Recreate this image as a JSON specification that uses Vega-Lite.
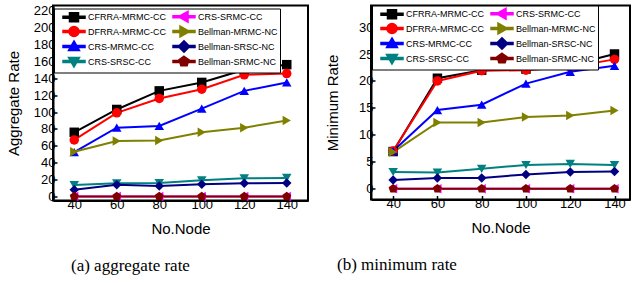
{
  "$schema": "https://vega.github.io/schema/vega-lite/v6.json",
  "padding": {"left": 5, "top": 3.5, "right": 0, "bottom": 0},
  "background": "white",
  "config": {
    "view": {"stroke": "black", "strokeWidth": 2},
    "axis": {
      "domainColor": "black", "domainWidth": 2, "tickColor": "black", "tickWidth": 1.5,
      "tickSize": -4, "labelFont": "Liberation Sans", "labelFontSize": 13, "labelColor": "black",
      "titleFont": "Liberation Sans", "titleFontSize": 15, "titleFontWeight": "normal", "titleColor": "black",
      "grid": false
    },
    "legend": {
      "labelFont": "Liberation Sans", "labelFontSize": 9, "labelColor": "black",
      "strokeColor": "black", "fillColor": "white", "padding": 2, "rowPadding": -6, "columnPadding": -4,
      "symbolSize": 100, "symbolOffset": 12, "labelOffset": 8
    },
    "title": {"font": "Liberation Serif", "fontSize": 17, "fontWeight": "normal", "color": "black"}
  },
  "datasets": {
    "agg": [
      {"n": 40, "s": "CFRRA-MRMC-CC", "v": 76}, {"n": 60, "s": "CFRRA-MRMC-CC", "v": 103}, {"n": 80, "s": "CFRRA-MRMC-CC", "v": 125}, {"n": 100, "s": "CFRRA-MRMC-CC", "v": 135}, {"n": 120, "s": "CFRRA-MRMC-CC", "v": 150}, {"n": 140, "s": "CFRRA-MRMC-CC", "v": 156},
      {"n": 40, "s": "DFRRA-MRMC-CC", "v": 67}, {"n": 60, "s": "DFRRA-MRMC-CC", "v": 99}, {"n": 80, "s": "DFRRA-MRMC-CC", "v": 116}, {"n": 100, "s": "DFRRA-MRMC-CC", "v": 127}, {"n": 120, "s": "DFRRA-MRMC-CC", "v": 144}, {"n": 140, "s": "DFRRA-MRMC-CC", "v": 145.5},
      {"n": 40, "s": "CRS-MRMC-CC", "v": 52.5}, {"n": 60, "s": "CRS-MRMC-CC", "v": 81.5}, {"n": 80, "s": "CRS-MRMC-CC", "v": 83.5}, {"n": 100, "s": "CRS-MRMC-CC", "v": 104}, {"n": 120, "s": "CRS-MRMC-CC", "v": 125}, {"n": 140, "s": "CRS-MRMC-CC", "v": 135},
      {"n": 40, "s": "Bellman-MRMC-NC", "v": 53}, {"n": 60, "s": "Bellman-MRMC-NC", "v": 65.6}, {"n": 80, "s": "Bellman-MRMC-NC", "v": 66.4}, {"n": 100, "s": "Bellman-MRMC-NC", "v": 76}, {"n": 120, "s": "Bellman-MRMC-NC", "v": 81.5}, {"n": 140, "s": "Bellman-MRMC-NC", "v": 90},
      {"n": 40, "s": "CRS-SRSC-CC", "v": 13.6}, {"n": 60, "s": "CRS-SRSC-CC", "v": 15.6}, {"n": 80, "s": "CRS-SRSC-CC", "v": 16}, {"n": 100, "s": "CRS-SRSC-CC", "v": 19.2}, {"n": 120, "s": "CRS-SRSC-CC", "v": 21.6}, {"n": 140, "s": "CRS-SRSC-CC", "v": 22},
      {"n": 40, "s": "Bellman-SRSC-NC", "v": 8}, {"n": 60, "s": "Bellman-SRSC-NC", "v": 14}, {"n": 80, "s": "Bellman-SRSC-NC", "v": 12.4}, {"n": 100, "s": "Bellman-SRSC-NC", "v": 14.4}, {"n": 120, "s": "Bellman-SRSC-NC", "v": 15.6}, {"n": 140, "s": "Bellman-SRSC-NC", "v": 16},
      {"n": 40, "s": "CRS-SRMC-CC", "v": 0}, {"n": 60, "s": "CRS-SRMC-CC", "v": 0}, {"n": 80, "s": "CRS-SRMC-CC", "v": 0}, {"n": 100, "s": "CRS-SRMC-CC", "v": 0}, {"n": 120, "s": "CRS-SRMC-CC", "v": 0}, {"n": 140, "s": "CRS-SRMC-CC", "v": 0},
      {"n": 40, "s": "Bellman-SRMC-NC", "v": 0}, {"n": 60, "s": "Bellman-SRMC-NC", "v": 0}, {"n": 80, "s": "Bellman-SRMC-NC", "v": 0}, {"n": 100, "s": "Bellman-SRMC-NC", "v": 0}, {"n": 120, "s": "Bellman-SRMC-NC", "v": 0}, {"n": 140, "s": "Bellman-SRMC-NC", "v": 0}
    ],
    "minr": [
      {"n": 40, "s": "CFRRA-MRMC-CC", "v": 6.9}, {"n": 60, "s": "CFRRA-MRMC-CC", "v": 20.5}, {"n": 80, "s": "CFRRA-MRMC-CC", "v": 22}, {"n": 100, "s": "CFRRA-MRMC-CC", "v": 22.2}, {"n": 120, "s": "CFRRA-MRMC-CC", "v": 22.9}, {"n": 140, "s": "CFRRA-MRMC-CC", "v": 25},
      {"n": 40, "s": "DFRRA-MRMC-CC", "v": 7}, {"n": 60, "s": "DFRRA-MRMC-CC", "v": 20}, {"n": 80, "s": "DFRRA-MRMC-CC", "v": 21.9}, {"n": 100, "s": "DFRRA-MRMC-CC", "v": 22}, {"n": 120, "s": "DFRRA-MRMC-CC", "v": 22.6}, {"n": 140, "s": "DFRRA-MRMC-CC", "v": 24},
      {"n": 40, "s": "CRS-MRMC-CC", "v": 7}, {"n": 60, "s": "CRS-MRMC-CC", "v": 14.6}, {"n": 80, "s": "CRS-MRMC-CC", "v": 15.6}, {"n": 100, "s": "CRS-MRMC-CC", "v": 19.5}, {"n": 120, "s": "CRS-MRMC-CC", "v": 21.7}, {"n": 140, "s": "CRS-MRMC-CC", "v": 22.8},
      {"n": 40, "s": "Bellman-MRMC-NC", "v": 6.8}, {"n": 60, "s": "Bellman-MRMC-NC", "v": 12.3}, {"n": 80, "s": "Bellman-MRMC-NC", "v": 12.3}, {"n": 100, "s": "Bellman-MRMC-NC", "v": 13.3}, {"n": 120, "s": "Bellman-MRMC-NC", "v": 13.6}, {"n": 140, "s": "Bellman-MRMC-NC", "v": 14.5},
      {"n": 40, "s": "CRS-SRSC-CC", "v": 3.1}, {"n": 60, "s": "CRS-SRSC-CC", "v": 3}, {"n": 80, "s": "CRS-SRSC-CC", "v": 3.7}, {"n": 100, "s": "CRS-SRSC-CC", "v": 4.4}, {"n": 120, "s": "CRS-SRSC-CC", "v": 4.6}, {"n": 140, "s": "CRS-SRSC-CC", "v": 4.4},
      {"n": 40, "s": "Bellman-SRSC-NC", "v": 1.6}, {"n": 60, "s": "Bellman-SRSC-NC", "v": 2}, {"n": 80, "s": "Bellman-SRSC-NC", "v": 2}, {"n": 100, "s": "Bellman-SRSC-NC", "v": 2.65}, {"n": 120, "s": "Bellman-SRSC-NC", "v": 3.1}, {"n": 140, "s": "Bellman-SRSC-NC", "v": 3.2},
      {"n": 40, "s": "CRS-SRMC-CC", "v": 0}, {"n": 60, "s": "CRS-SRMC-CC", "v": 0}, {"n": 80, "s": "CRS-SRMC-CC", "v": 0}, {"n": 100, "s": "CRS-SRMC-CC", "v": 0}, {"n": 120, "s": "CRS-SRMC-CC", "v": 0}, {"n": 140, "s": "CRS-SRMC-CC", "v": 0},
      {"n": 40, "s": "Bellman-SRMC-NC", "v": 0}, {"n": 60, "s": "Bellman-SRMC-NC", "v": 0}, {"n": 80, "s": "Bellman-SRMC-NC", "v": 0}, {"n": 100, "s": "Bellman-SRMC-NC", "v": 0}, {"n": 120, "s": "Bellman-SRMC-NC", "v": 0}, {"n": 140, "s": "Bellman-SRMC-NC", "v": 0}
    ]
  },
  "hconcat": [
    {
      "width": 255, "height": 195,
      "data": {"name": "agg"},
      "title": {"text": "(a) aggregate rate", "orient": "bottom", "anchor": "start", "frame": "group", "dx": 18, "offset": 21},
      "encoding": {
        "x": {"field": "n", "type": "quantitative", "scale": {"domain": [30, 150], "nice": false}, "axis": {"values": [40, 60, 80, 100, 120, 140], "title": "No.Node", "titlePadding": 10}},
        "y": {"field": "v", "type": "quantitative", "scale": {"domain": [-4.7, 226], "nice": false}, "axis": {"values": [0, 20, 40, 60, 80, 100, 120, 140, 160, 180, 200, 220], "title": "Aggregate Rate", "titlePadding": 12}},
        "color": {"field": "s", "type": "nominal",
          "scale": {"domain": ["CFRRA-MRMC-CC", "DFRRA-MRMC-CC", "CRS-MRMC-CC", "CRS-SRSC-CC", "CRS-SRMC-CC", "Bellman-MRMC-NC", "Bellman-SRSC-NC", "Bellman-SRMC-NC"],
                    "range": ["#000000", "#ff0000", "#0000ff", "#008080", "#ff00ff", "#808000", "#000080", "#800000"]},
          "legend": {"title": null, "columns": 2, "orient": "none", "legendX": 1, "legendY": 3,
            "encode": {"symbols": {"update": {
              "shape": {"signal": "({'CFRRA-MRMC-CC':'M-2.2,-0.2H2.2V0.2H-2.2ZM-0.9,-0.9H0.9V0.9H-0.9Z','DFRRA-MRMC-CC':'M-2.2,-0.2H2.2V0.2H-2.2ZM1,0A1,1,0,1,1,-1,0A1,1,0,1,1,1,0Z','CRS-MRMC-CC':'M-2.2,-0.2H2.2V0.2H-2.2ZM0,-1.1L1.1,0.8L-1.1,0.8Z','CRS-SRSC-CC':'M-2.2,-0.2H2.2V0.2H-2.2ZM0,1.1L-1.1,-0.8L1.1,-0.8Z','CRS-SRMC-CC':'M-2.2,-0.2H2.2V0.2H-2.2ZM-1.1,0L0.8,-1.1L0.8,1.1Z','Bellman-MRMC-NC':'M-2.2,-0.2H2.2V0.2H-2.2ZM1.1,0L-0.8,1.1L-0.8,-1.1Z','Bellman-SRSC-NC':'M-2.2,-0.2H2.2V0.2H-2.2ZM0,-1.15L1.15,0L0,1.15L-1.15,0Z','Bellman-SRMC-NC':'M-2.2,-0.2H2.2V0.2H-2.2ZM0,-1.05L1,-0.32L0.62,0.85L-0.62,0.85L-1,-0.32Z'})[datum.value]"},
              "fill": {"signal": "({'CFRRA-MRMC-CC':'#000000','CRS-SRMC-CC':'#ff00ff','DFRRA-MRMC-CC':'#ff0000','Bellman-MRMC-NC':'#808000','CRS-MRMC-CC':'#0000ff','Bellman-SRSC-NC':'#000080','CRS-SRSC-CC':'#008080','Bellman-SRMC-NC':'#800000'})[datum.value]"},
              "opacity": {"value": 1}
            }}}
          }}
      },
      "layer": [
        {"mark": {"type": "line", "strokeWidth": 2}},
        {"mark": {"type": "point", "filled": true, "opacity": 1, "size": 90},
         "encoding": {"shape": {"field": "s", "type": "nominal", "legend": null,
           "scale": {"domain": ["Bellman-MRMC-NC", "Bellman-SRMC-NC", "Bellman-SRSC-NC", "CFRRA-MRMC-CC", "CRS-MRMC-CC", "CRS-SRMC-CC", "CRS-SRSC-CC", "DFRRA-MRMC-CC"],
             "range": ["triangle-right", "M0,-1L0.95,-0.31L0.59,0.81L-0.59,0.81L-0.95,-0.31Z", "diamond", "square", "triangle-up", "triangle-left", "triangle-down", "circle"]}}}}
      ]
    },
    {
      "width": 259, "height": 194,
      "data": {"name": "minr"},
      "title": {"text": "(b) minimum rate", "orient": "bottom", "anchor": "start", "frame": "group", "dx": -34, "offset": 21},
      "encoding": {
        "x": {"field": "n", "type": "quantitative", "scale": {"domain": [30, 147], "nice": false}, "axis": {"values": [40, 60, 80, 100, 120, 140], "title": "No.Node", "titlePadding": 10}},
        "y": {"field": "v", "type": "quantitative", "scale": {"domain": [-2, 34], "nice": false}, "axis": {"values": [0, 5, 10, 15, 20, 25, 30], "title": "Minimum Rate", "titlePadding": 18}},
        "color": {"field": "s", "type": "nominal",
          "scale": {"domain": ["CFRRA-MRMC-CC", "DFRRA-MRMC-CC", "CRS-MRMC-CC", "CRS-SRSC-CC", "CRS-SRMC-CC", "Bellman-MRMC-NC", "Bellman-SRSC-NC", "Bellman-SRMC-NC"],
                    "range": ["#000000", "#ff0000", "#0000ff", "#008080", "#ff00ff", "#808000", "#000080", "#800000"]},
          "legend": {"title": null, "columns": 2, "orient": "none", "legendX": 1, "legendY": 0,
            "encode": {"symbols": {"update": {
              "shape": {"signal": "({'CFRRA-MRMC-CC':'M-2.2,-0.2H2.2V0.2H-2.2ZM-0.9,-0.9H0.9V0.9H-0.9Z','DFRRA-MRMC-CC':'M-2.2,-0.2H2.2V0.2H-2.2ZM1,0A1,1,0,1,1,-1,0A1,1,0,1,1,1,0Z','CRS-MRMC-CC':'M-2.2,-0.2H2.2V0.2H-2.2ZM0,-1.1L1.1,0.8L-1.1,0.8Z','CRS-SRSC-CC':'M-2.2,-0.2H2.2V0.2H-2.2ZM0,1.1L-1.1,-0.8L1.1,-0.8Z','CRS-SRMC-CC':'M-2.2,-0.2H2.2V0.2H-2.2ZM-1.1,0L0.8,-1.1L0.8,1.1Z','Bellman-MRMC-NC':'M-2.2,-0.2H2.2V0.2H-2.2ZM1.1,0L-0.8,1.1L-0.8,-1.1Z','Bellman-SRSC-NC':'M-2.2,-0.2H2.2V0.2H-2.2ZM0,-1.15L1.15,0L0,1.15L-1.15,0Z','Bellman-SRMC-NC':'M-2.2,-0.2H2.2V0.2H-2.2ZM0,-1.05L1,-0.32L0.62,0.85L-0.62,0.85L-1,-0.32Z'})[datum.value]"},
              "fill": {"signal": "({'CFRRA-MRMC-CC':'#000000','CRS-SRMC-CC':'#ff00ff','DFRRA-MRMC-CC':'#ff0000','Bellman-MRMC-NC':'#808000','CRS-MRMC-CC':'#0000ff','Bellman-SRSC-NC':'#000080','CRS-SRSC-CC':'#008080','Bellman-SRMC-NC':'#800000'})[datum.value]"},
              "opacity": {"value": 1}
            }}}
          }}
      },
      "layer": [
        {"mark": {"type": "line", "strokeWidth": 2}},
        {"mark": {"type": "point", "filled": true, "opacity": 1, "size": 90},
         "encoding": {"shape": {"field": "s", "type": "nominal", "legend": null,
           "scale": {"domain": ["Bellman-MRMC-NC", "Bellman-SRMC-NC", "Bellman-SRSC-NC", "CFRRA-MRMC-CC", "CRS-MRMC-CC", "CRS-SRMC-CC", "CRS-SRSC-CC", "DFRRA-MRMC-CC"],
             "range": ["triangle-right", "M0,-1L0.95,-0.31L0.59,0.81L-0.59,0.81L-0.95,-0.31Z", "diamond", "square", "triangle-up", "triangle-left", "triangle-down", "circle"]}}}}
      ]
    }
  ],
  "spacing": 15,
  "resolve": {"scale": {"color": "independent", "shape": "independent", "x": "independent", "y": "independent"}, "legend": {"color": "independent"}}
}
